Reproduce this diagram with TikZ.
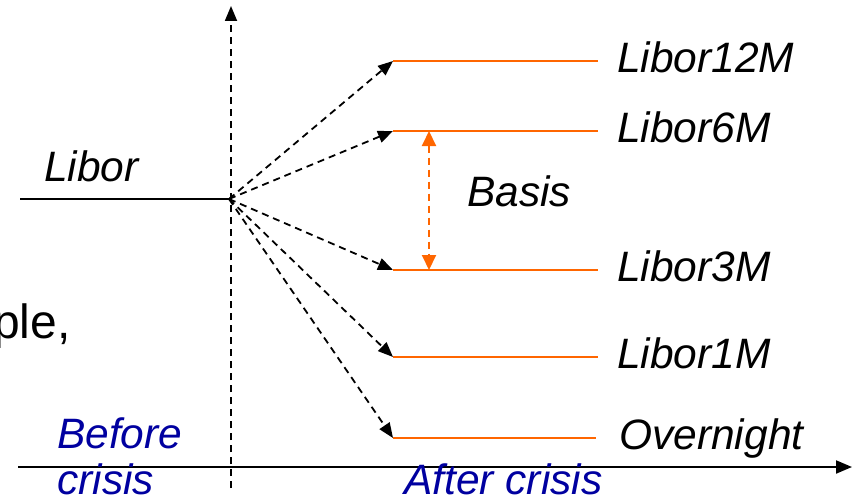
\documentclass[tikz,border=0pt]{standalone}
\usepackage{fontspec}
\setmainfont{Liberation Sans}
\usetikzlibrary{arrows.meta}
\definecolor{lineorange}{RGB}{255,102,0}
\definecolor{crisisblue}{RGB}{0,0,160}
\tikzset{
  lbl/.style={anchor=base west,inner sep=0pt,font=\fontsize{42.5}{50}\selectfont\itshape},
  big/.style={anchor=base west,inner sep=0pt,font=\fontsize{48}{56}\selectfont},
  dsh/.style={line width=1.8pt,dash pattern=on 7pt off 5pt},
  dtip/.style={-{Triangle[length=15pt,width=12pt]}},
  rate/.style={draw=lineorange,line width=2.2pt},
  axisline/.style={line width=2pt,black}
}
\begin{document}
\begin{tikzpicture}[x=1pt,y=-1pt]
\useasboundingbox (0,0) rectangle (858,503);
\clip (0,0) rectangle (858,503);
% partially visible texts at the edges
\node[big,anchor=base] (pl) at (353,-10) {(};
\node[big,anchor=base] (pr) at (536,-10) {)};
\node[big] (ple) at (-7,338) {ple,};
% axes
\coordinate (vb) at (231,488);
\coordinate (vt) at (231,6);
\draw[dsh,dtip] (vb) -- (vt);
\coordinate (hl) at (18,467);
\coordinate (hr) at (852,467);
\draw[axisline,-{Triangle[length=16pt,width=13pt]}] (hl) -- (hr);
% Libor before crisis
\coordinate (O) at (229,199);
\coordinate (L0) at (20,199);
\draw[line width=1.8pt] (L0) -- (O);
\node[lbl] (libor) at (44,181) {Libor};
% rate lines
\coordinate (a12) at (393,61);  \coordinate (b12) at (598,61);
\coordinate (a6) at (393,131);  \coordinate (b6) at (598,131);
\coordinate (a3) at (393,270);  \coordinate (b3) at (598,270);
\coordinate (a1) at (393,357);  \coordinate (b1) at (598,357);
\coordinate (aon) at (393,438); \coordinate (bon) at (596,438);
\foreach \r in {12,6,3,1,on}{
  \draw[rate] (a\r) -- (b\r);
  \draw[dsh,dtip] (O) -- (a\r);
}
\node[lbl] (t12) at (617,72) {Libor12M};
\node[lbl] (t6) at (617,142) {Libor6M};
\node[lbl] (t3) at (617,281) {Libor3M};
\node[lbl] (t1) at (617,368) {Libor1M};
\node[lbl] (ton) at (619,449) {Overnight};
% basis
\coordinate (bt) at (429,131);
\coordinate (bb) at (429,270);
\draw[lineorange,line width=2pt,dash pattern=on 7pt off 5pt,
  {Triangle[length=15pt,width=14pt]}-{Triangle[length=15pt,width=14pt]}] (bt) -- (bb);
\node[lbl] (basis) at (467,206) {Basis};
% time labels
\node[lbl,text=crisisblue] (before) at (57,448) {Before};
\node[lbl,text=crisisblue] (crisis) at (57,494) {crisis};
\node[lbl,text=crisisblue] (after) at (404,494) {After crisis};
\end{tikzpicture}
\end{document}
